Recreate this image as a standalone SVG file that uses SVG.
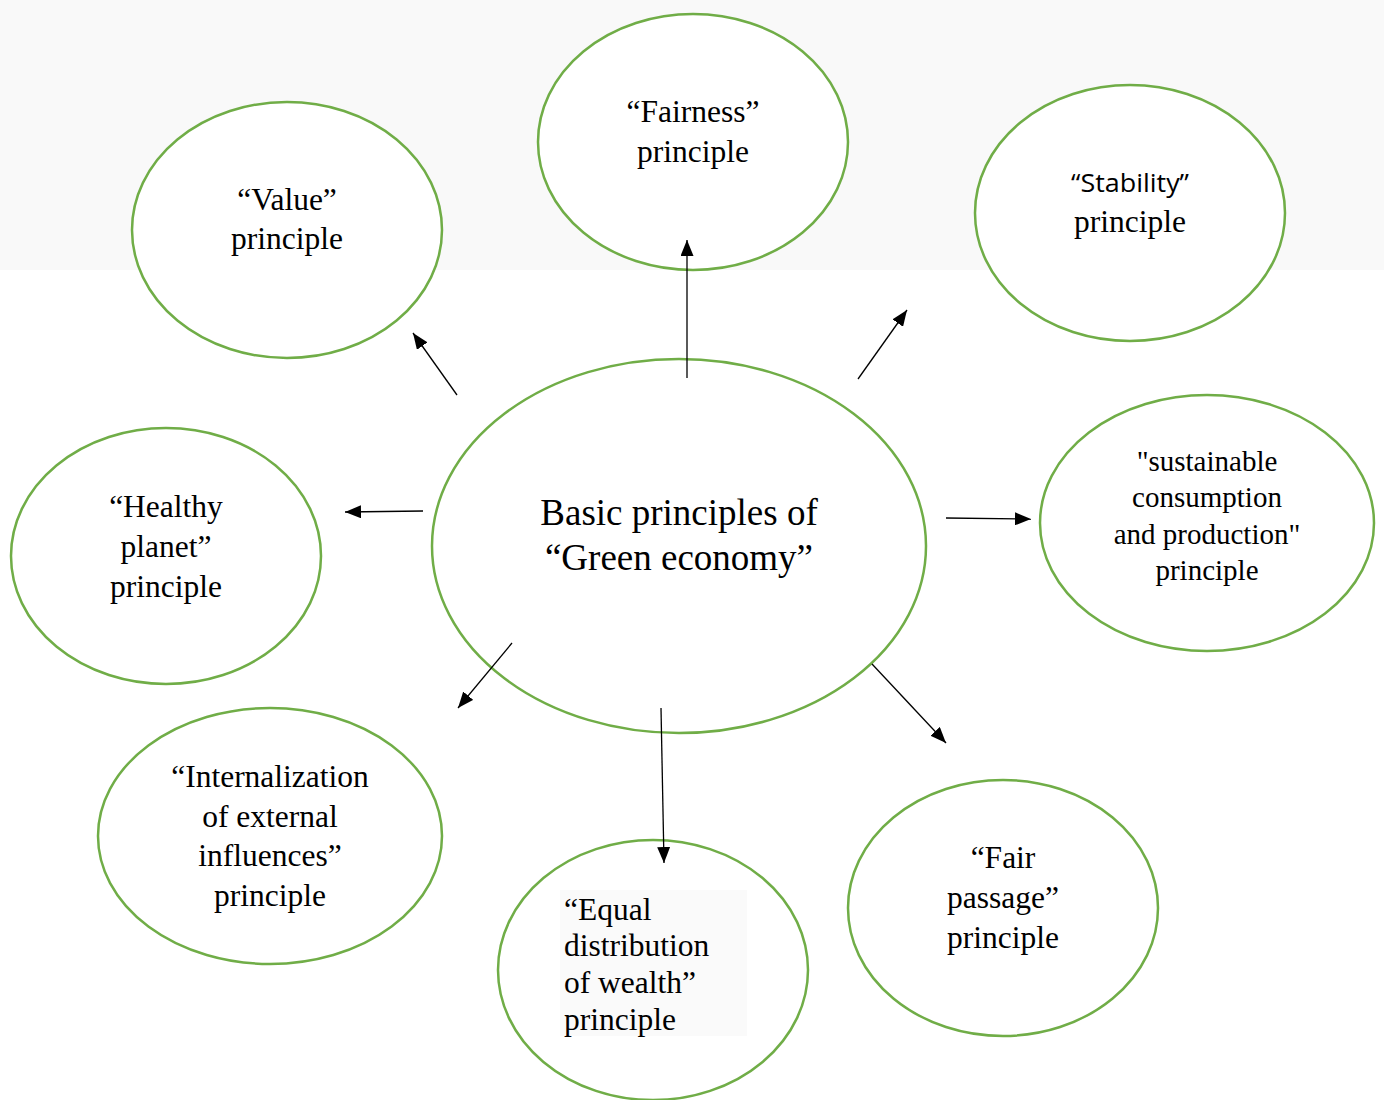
<svg xmlns="http://www.w3.org/2000/svg" width="1384" height="1100" viewBox="0 0 1384 1100">
  <defs>
    <marker id="arrow" viewBox="0 0 16 13" refX="16" refY="6.5" markerWidth="16" markerHeight="13" markerUnits="userSpaceOnUse" orient="auto">
      <path d="M0,0 L16,6.5 L0,13 z" fill="#000"/>
    </marker>
    <style>
      .node { fill: #fff; stroke: #70ad47; stroke-width: 2.5; }
      .label { font-family: "Liberation Serif", "Times New Roman", serif; font-size: 31.5px; fill: #000; text-anchor: middle; }
      .small { font-size: 29px; }
      .big { font-size: 37px; }
      .left { text-anchor: start; }
      .sans { font-family: "Open Sans", "Noto Sans", sans-serif; font-size: 25px; }
      .link { stroke: #000; stroke-width: 1.3; fill: none; marker-end: url(#arrow); }
    </style>
  </defs>

  <!-- page background with light band at the top -->
  <rect x="0" y="0" width="1384" height="1100" fill="#fff"/>
  <rect x="0" y="0" width="1384" height="270" fill="#f9f9f9"/>

  <g id="center">
    <ellipse class="node" cx="679" cy="546" rx="247" ry="187"/>
    <text class="label big" x="679" y="525">Basic principles of</text>
    <text class="label big" x="679" y="570">“Green economy”</text>
  </g>

  <g id="value">
    <ellipse class="node" cx="287" cy="230" rx="155" ry="128"/>
    <text class="label" x="287" y="210">“Value”</text>
    <text class="label" x="287" y="249">principle</text>
  </g>

  <g id="fairness">
    <ellipse class="node" cx="693" cy="142" rx="155" ry="128"/>
    <text class="label" x="693" y="122">“Fairness”</text>
    <text class="label" x="693" y="162">principle</text>
  </g>

  <g id="stability">
    <ellipse class="node" cx="1130" cy="213" rx="155" ry="128"/>
    <text class="label sans" x="1130" y="192" textLength="118" lengthAdjust="spacingAndGlyphs">“Stability”</text>
    <text class="label" x="1130" y="232">principle</text>
  </g>

  <g id="sustainable">
    <ellipse class="node" cx="1207" cy="523" rx="167" ry="128"/>
    <text class="label small" x="1207" y="471">"sustainable</text>
    <text class="label small" x="1207" y="507">consumption</text>
    <text class="label small" x="1207" y="544">and production"</text>
    <text class="label small" x="1207" y="580">principle</text>
  </g>

  <g id="healthy">
    <ellipse class="node" cx="166" cy="556" rx="155" ry="128"/>
    <text class="label" x="166" y="517">“Healthy</text>
    <text class="label" x="166" y="557">planet”</text>
    <text class="label" x="166" y="597">principle</text>
  </g>

  <g id="internalization">
    <ellipse class="node" cx="270" cy="836" rx="172" ry="128"/>
    <text class="label" x="270" y="787">“Internalization</text>
    <text class="label" x="270" y="827">of external</text>
    <text class="label" x="270" y="866">influences”</text>
    <text class="label" x="270" y="906">principle</text>
  </g>

  <g id="equal">
    <ellipse class="node" cx="653" cy="970" rx="155" ry="130"/>
    <rect x="560" y="890" width="187" height="146" fill="#fafafa"/>
    <text class="label left" x="564" y="920">“Equal</text>
    <text class="label left" x="564" y="956">distribution</text>
    <text class="label left" x="564" y="993">of wealth”</text>
    <text class="label left" x="564" y="1030">principle</text>
  </g>

  <g id="fair-passage">
    <ellipse class="node" cx="1003" cy="908" rx="155" ry="128"/>
    <text class="label" x="1003" y="868">“Fair</text>
    <text class="label" x="1003" y="908">passage”</text>
    <text class="label" x="1003" y="948">principle</text>
  </g>

  <g id="connectors">
    <line class="link" x1="457" y1="395" x2="413" y2="333"/>
    <line class="link" x1="687" y1="378" x2="687" y2="240"/>
    <line class="link" x1="858" y1="379" x2="907" y2="310"/>
    <line class="link" x1="946" y1="518" x2="1031" y2="519"/>
    <line class="link" x1="423" y1="511" x2="345" y2="512"/>
    <line class="link" x1="512" y1="643" x2="458" y2="708"/>
    <line class="link" x1="661" y1="708" x2="664" y2="863"/>
    <line class="link" x1="872" y1="664" x2="946" y2="743"/>
  </g>
</svg>
